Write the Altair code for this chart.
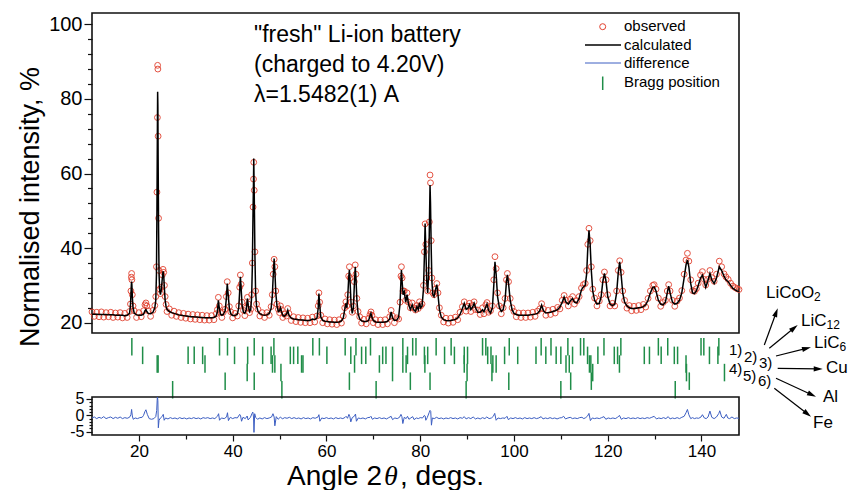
import altair as alt
import pandas as pd

# ---------------- data ----------------
ANGLE = [
    10.0, 10.5, 11.0, 11.5, 12.0, 12.5, 13.0, 13.5, 14.0, 14.5,
    15.0, 15.5, 16.0, 16.5, 17.0, 17.5, 18.0, 18.2, 18.3, 18.4,
    18.45, 18.5, 18.6, 18.75, 19.0, 19.5, 20.0, 20.5, 21.0, 21.3,
    21.5, 21.7, 22.0, 22.5, 23.0, 23.4, 23.6, 23.75, 23.85, 23.95,
    24.0, 24.05, 24.1, 24.2, 24.3, 24.45, 24.6, 24.8, 25.0, 25.15,
    25.3, 25.45, 25.6, 25.8, 26.0, 26.5, 27.0, 27.5, 28.0, 28.5,
    29.0, 29.5, 30.0, 30.5, 31.0, 31.5, 32.0, 32.5, 33.0, 33.5,
    34.0, 34.5, 35.0, 35.5, 36.0, 36.5, 36.75, 36.95, 37.15, 37.4,
    37.7, 38.0, 38.4, 38.65, 38.85, 39.05, 39.3, 39.6, 40.0, 40.5,
    41.0, 41.3, 41.5, 41.65, 41.8, 42.0, 42.3, 42.6, 42.9, 43.15,
    43.35, 43.6, 43.85, 44.05, 44.2, 44.35, 44.45, 44.5, 44.6, 44.75,
    44.9, 45.1, 45.4, 45.8, 46.3, 46.8, 47.3, 47.8, 48.2, 48.45,
    48.65, 48.85, 49.0, 49.2, 49.45, 49.75, 50.0, 50.2, 50.4, 50.7,
    51.0, 51.5, 51.75, 52.0, 52.5, 53.0, 53.5, 54.0, 54.5, 55.0,
    55.5, 56.0, 56.5, 57.0, 57.5, 58.0, 58.25, 58.4, 58.55, 58.8,
    59.2, 59.7, 60.2, 60.7, 61.2, 61.7, 62.2, 62.7, 63.2, 63.6,
    63.9, 64.15, 64.35, 64.55, 64.75, 64.9, 65.05, 65.25, 65.5, 65.75,
    65.95, 66.15, 66.3, 66.5, 66.75, 67.1, 67.5, 68.0, 68.5, 69.0,
    69.3, 69.5, 69.7, 70.0, 70.5, 71.0, 71.5, 72.0, 72.5, 73.0,
    73.5, 73.8, 74.1, 74.5, 75.0, 75.4, 75.7, 75.9, 76.0, 76.15,
    76.35, 76.6, 76.9, 77.2, 77.5, 77.9, 78.3, 78.6, 79.0, 79.3,
    79.6, 79.85, 80.1, 80.4, 80.7, 80.9, 81.05, 81.2, 81.4, 81.6,
    81.8, 81.95, 82.1, 82.2, 82.35, 82.5, 82.7, 82.95, 83.25, 83.55,
    83.8, 84.1, 84.5, 85.0, 85.5, 86.0, 86.5, 87.0, 87.5, 88.0,
    88.5, 89.0, 89.4, 89.8, 90.2, 90.5, 90.8, 91.2, 91.5, 91.8,
    92.3, 92.8, 93.3, 93.6, 94.0, 94.25, 94.6, 95.0, 95.4, 95.7,
    95.95, 96.2, 96.5, 96.9, 97.3, 97.7, 98.1, 98.4, 98.6, 98.85,
    99.2, 99.6, 100.0, 100.5, 101.0, 101.5, 102.0, 102.5, 103.0, 103.5,
    104.0, 104.5, 105.0, 105.5, 105.9, 106.3, 106.8, 107.3, 107.8, 108.3,
    108.8, 109.3, 109.8, 110.3, 110.7, 111.1, 111.6, 112.0, 112.5, 112.9,
    113.4, 113.9, 114.4, 114.8, 115.2, 115.5, 115.75, 116.0, 116.25, 116.5,
    116.8, 117.2, 117.7, 118.2, 118.6, 118.95, 119.3, 119.65, 120.0, 120.5,
    121.0, 121.5, 121.9, 122.25, 122.55, 122.85, 123.2, 123.6, 124.1, 124.6,
    125.1, 125.6, 126.1, 126.6, 127.1, 127.6, 128.1, 128.6, 129.1, 129.6,
    129.9, 130.3, 130.8, 131.3, 131.8, 132.3, 132.7, 133.0, 133.3, 133.8,
    134.3, 134.8, 135.3, 135.8, 136.3, 136.7, 137.0, 137.3, 137.7, 138.1,
    138.5, 138.9, 139.3, 139.8, 140.2, 140.6, 140.9, 141.3, 141.8, 142.2,
    142.7, 143.2, 143.8, 144.3, 144.8, 145.2, 145.7, 146.2, 146.7, 147.2,
    147.6, 148.0,
]

CALC = [
    22.3, 22.3, 22.3, 22.2, 22.2, 22.2, 22.2, 22.1, 22.1, 22.1,
    22.0, 22.0, 22.0, 22.0, 21.9, 22.0, 22.5, 24.5, 27.5, 30.3,
    31.0, 30.2, 27.0, 24.0, 22.6, 22.1, 22.0, 22.0, 22.3, 23.2,
    23.5, 23.0, 22.5, 22.4, 22.8, 24.0, 26.0, 33.0, 50.0, 72.0,
    81.9, 78.0, 65.0, 45.0, 33.0, 28.5, 27.5, 29.0, 32.0, 33.8,
    32.5, 29.0, 26.0, 24.3, 23.6, 23.0, 22.7, 22.5, 22.3, 22.1,
    22.0, 21.9, 21.8, 21.7, 21.6, 21.6, 21.5, 21.5, 21.4, 21.4,
    21.3, 21.3, 21.3, 21.3, 21.4, 21.8, 23.0, 26.0, 24.0, 22.3,
    22.0, 22.2, 23.2, 26.5, 30.5, 27.5, 23.8, 22.4, 21.9, 21.9,
    22.3, 24.0, 28.5, 32.3, 29.5, 24.8, 22.8, 22.5, 23.5, 26.5,
    24.5, 23.0, 23.5, 27.0, 35.0, 50.0, 58.0, 64.0, 55.0, 38.0,
    28.0, 24.5, 23.0, 22.4, 22.1, 22.0, 22.1, 22.5, 23.8, 27.0,
    32.5, 37.2, 34.0, 28.0, 24.5, 23.0, 23.2, 24.0, 23.0, 22.0,
    21.7, 22.3, 23.3, 22.0, 21.2, 21.0, 20.9, 20.8, 20.7, 20.7,
    20.6, 20.6, 20.6, 21.0, 20.8, 21.3, 24.0, 27.8, 25.0, 21.5,
    20.6, 20.4, 20.3, 20.2, 20.2, 20.1, 20.1, 20.2, 20.5, 21.3,
    23.5, 25.2, 24.0, 27.0, 32.0, 34.2, 31.0, 25.0, 22.5, 24.0,
    30.0, 35.0, 32.0, 26.0, 22.5, 21.0, 20.5, 20.3, 20.3, 20.6,
    21.8, 22.5, 21.5, 20.6, 20.2, 20.1, 20.1, 20.1, 20.2, 20.3,
    21.0, 22.9, 21.3, 20.6, 20.7, 21.5, 25.0, 31.5, 34.1, 31.0,
    27.5, 28.3, 25.5, 27.5, 25.0, 23.5, 24.8, 23.5, 23.0, 24.3,
    23.5, 25.3, 24.0, 24.5, 29.0, 38.0, 46.6, 40.0, 31.0, 28.0,
    33.0, 45.0, 56.9, 52.0, 40.0, 31.0, 27.5, 27.0, 28.8, 30.2,
    27.5, 23.5, 21.5, 20.8, 20.6, 20.5, 20.6, 20.7, 20.9, 21.3,
    22.2, 23.8, 25.2, 23.6, 23.9, 24.8, 23.5, 24.2, 25.2, 24.0,
    22.8, 22.8, 23.5, 22.9, 24.3, 25.0, 23.3, 22.6, 24.0, 30.0,
    36.3, 33.0, 27.0, 24.0, 23.0, 23.5, 26.0, 31.0, 32.8, 30.5,
    26.0, 23.5, 22.5, 22.2, 22.0, 22.0, 22.0, 22.0, 22.0, 22.1,
    22.2, 22.3, 22.5, 23.2, 24.7, 23.2, 22.6, 22.7, 22.8, 23.0,
    23.2, 23.5, 24.2, 25.5, 26.9, 25.5, 25.0, 25.8, 26.5, 25.5,
    25.3, 26.5, 28.8, 29.6, 30.0, 33.0, 40.0, 44.8, 41.0, 34.0,
    28.5, 26.0, 25.0, 25.2, 27.0, 31.0, 33.2, 31.0, 27.0, 25.0,
    24.6, 25.0, 28.0, 33.5, 36.3, 33.0, 28.0, 25.5, 24.5, 24.0,
    23.8, 23.8, 23.9, 24.0, 24.1, 24.3, 24.8, 26.0, 28.0, 29.5,
    29.6, 28.5, 26.0, 25.0, 24.8, 25.5, 28.0, 29.8, 28.0, 25.5,
    25.0, 25.2, 26.0, 28.0, 32.0, 35.5, 36.8, 35.0, 30.5, 28.0,
    27.8, 28.5, 30.0, 32.0, 32.8, 31.0, 29.5, 31.0, 33.2, 31.5,
    30.5, 32.0, 35.0, 34.0, 32.5, 31.5, 31.0, 30.0, 29.2, 28.8,
    28.5, 28.4,
]

OBS = [
    22.9, 21.7, 22.8, 21.6, 22.9, 21.5, 22.7, 21.6, 22.8, 21.4,
    22.6, 21.5, 22.7, 21.3, 22.5, 21.4, 23.0, 25.0, 28.5, 32.2,
    33.2, 31.5, 27.5, 24.5, 23.2, 21.4, 22.7, 21.6, 23.2, 24.8,
    25.3, 24.5, 23.2, 21.7, 23.3, 24.6, 27.0, 35.0, 55.0, 75.0,
    89.0, 88.0, 70.0, 48.0, 34.0, 29.0, 27.8, 29.5, 32.8, 34.3,
    33.5, 30.0, 27.0, 24.9, 23.0, 23.7, 22.0, 23.1, 21.7, 22.7,
    21.4, 22.5, 21.2, 22.3, 21.0, 22.2, 20.9, 22.1, 20.8, 22.0,
    20.7, 21.9, 20.7, 21.9, 20.8, 22.4, 23.5, 26.8, 24.5, 22.8,
    21.4, 22.8, 23.6, 27.0, 31.0, 28.0, 24.3, 22.9, 21.3, 22.5,
    21.8, 24.5, 29.5, 32.8, 30.3, 25.5, 23.3, 21.9, 24.0, 26.8,
    25.0, 22.7, 23.6, 27.5, 36.0, 51.0, 58.5, 63.0, 55.5, 39.0,
    28.5, 25.0, 23.6, 21.8, 22.7, 21.4, 22.7, 22.0, 24.3, 27.5,
    33.0, 37.0, 35.0, 28.5, 25.0, 23.6, 22.7, 24.5, 23.5, 21.4,
    22.3, 21.8, 23.8, 22.5, 20.6, 21.6, 20.3, 21.4, 20.1, 21.3,
    20.0, 21.2, 20.0, 21.5, 20.2, 21.8, 24.5, 28.0, 25.5, 22.0,
    20.0, 21.0, 19.7, 20.8, 19.6, 20.7, 19.5, 20.8, 19.9, 21.8,
    24.0, 25.6, 24.5, 27.5, 32.5, 35.0, 32.0, 25.5, 22.8, 24.5,
    31.0, 35.5, 33.0, 26.5, 23.0, 21.6, 19.9, 20.9, 19.7, 21.2,
    22.2, 22.9, 22.0, 20.0, 20.8, 19.5, 20.7, 19.5, 20.8, 19.7,
    21.6, 23.3, 21.8, 20.0, 21.3, 21.0, 25.5, 32.5, 35.0, 32.0,
    28.5, 28.5, 26.0, 28.0, 25.5, 24.0, 25.3, 24.0, 23.4, 24.6,
    23.8, 25.6, 24.5, 25.0, 30.0, 39.0, 46.5, 41.0, 32.0, 28.5,
    34.0, 47.0, 59.6, 57.5, 42.0, 32.0, 28.0, 27.5, 29.0, 30.5,
    28.0, 24.0, 22.0, 20.2, 21.2, 19.9, 21.2, 20.1, 21.5, 20.8,
    22.8, 24.3, 25.6, 23.1, 24.4, 25.2, 23.0, 24.7, 25.6, 23.5,
    23.4, 22.2, 24.0, 22.4, 24.8, 25.4, 22.8, 23.2, 24.5, 31.5,
    37.7, 34.5, 28.0, 24.5, 22.4, 24.0, 26.5, 31.5, 33.2, 31.0,
    26.5, 24.0, 23.0, 21.6, 22.6, 21.4, 22.6, 21.4, 22.6, 21.5,
    22.8, 21.7, 23.1, 23.7, 25.1, 23.7, 22.0, 23.3, 22.2, 23.6,
    22.6, 24.1, 23.7, 26.0, 27.3, 26.0, 24.5, 26.3, 27.0, 25.0,
    25.9, 27.0, 29.3, 30.2, 30.5, 34.0, 41.0, 45.3, 42.0, 35.0,
    29.0, 26.6, 24.5, 25.8, 27.5, 31.5, 33.6, 31.5, 27.5, 24.5,
    25.2, 24.5, 28.5, 34.0, 36.6, 33.5, 28.5, 26.0, 23.9, 24.6,
    23.2, 24.4, 23.3, 24.6, 23.5, 24.9, 24.2, 26.5, 28.5, 30.0,
    30.2, 29.0, 26.6, 24.4, 25.4, 26.0, 28.5, 30.2, 28.5, 26.0,
    24.4, 25.8, 26.6, 28.6, 33.0, 36.8, 38.6, 36.5, 31.5, 28.6,
    28.4, 29.1, 30.6, 32.8, 33.7, 31.6, 30.1, 31.6, 34.0, 32.1,
    31.1, 33.0, 36.5, 35.0, 33.1, 32.3, 31.6, 30.6, 29.8, 29.4,
    29.1, 28.9,
]

DIFF_ANGLE = [
    10.0, 10.5, 11.0, 11.5, 12.0, 12.5, 13.0, 13.5, 14.0, 14.5,
    15.0, 15.5, 16.0, 16.5, 17.0, 17.5, 18.0, 18.3, 18.45, 18.6,
    18.8, 19.2, 19.7, 20.2, 20.7, 21.0, 21.3, 21.5, 21.8, 22.2,
    22.7, 23.2, 23.6, 23.8, 23.95, 24.05, 24.15, 24.3, 24.6, 25.0,
    25.2, 25.4, 25.7, 26.2, 26.7, 27.2, 27.7, 28.2, 28.7, 29.2,
    29.7, 30.2, 30.7, 31.2, 31.7, 32.2, 32.7, 33.2, 33.7, 34.2,
    34.7, 35.2, 35.7, 36.2, 36.8, 37.0, 37.2, 37.6, 38.2, 38.7,
    38.9, 39.1, 39.5, 40.0, 40.5, 41.0, 41.5, 41.7, 41.9, 42.2,
    42.7, 43.1, 43.3, 43.8, 44.1, 44.3, 44.45, 44.55, 44.7, 44.9,
    45.3, 45.8, 46.3, 46.8, 47.3, 47.8, 48.3, 48.6, 48.85, 49.0,
    49.3, 49.7, 50.2, 50.6, 51.1, 51.6, 52.1, 52.6, 53.1, 53.6,
    54.1, 54.6, 55.1, 55.6, 56.1, 56.6, 57.1, 57.6, 58.2, 58.4,
    58.6, 59.0, 59.5, 60.0, 60.5, 61.0, 61.5, 62.0, 62.5, 63.0,
    63.5, 64.0, 64.2, 64.5, 64.8, 65.0, 65.2, 65.5, 66.0, 66.2,
    66.4, 66.8, 67.3, 67.8, 68.3, 68.8, 69.3, 69.5, 69.8, 70.3,
    70.8, 71.3, 71.8, 72.3, 72.8, 73.3, 73.8, 74.1, 74.6, 75.1,
    75.6, 75.9, 76.1, 76.3, 76.6, 77.0, 77.3, 77.6, 78.0, 78.4,
    78.7, 79.2, 79.6, 80.0, 80.5, 80.9, 81.05, 81.2, 81.5, 81.9,
    82.1, 82.25, 82.4, 82.6, 83.0, 83.5, 84.0, 84.5, 85.0, 85.5,
    86.0, 86.5, 87.0, 87.5, 88.0, 88.5, 89.0, 89.4, 89.8, 90.3,
    90.8, 91.3, 91.8, 92.3, 92.8, 93.3, 93.8, 94.2, 94.7, 95.2,
    95.6, 95.9, 96.2, 96.6, 97.1, 97.6, 98.1, 98.5, 98.8, 99.3,
    99.8, 100.3, 100.8, 101.3, 101.8, 102.3, 102.8, 103.3, 103.8, 104.3,
    104.8, 105.3, 105.8, 106.2, 106.7, 107.2, 107.7, 108.2, 108.7, 109.2,
    109.7, 110.2, 110.6, 111.0, 111.5, 112.0, 112.5, 113.0, 113.5, 114.0,
    114.5, 114.9, 115.3, 115.7, 116.0, 116.3, 116.7, 117.2, 117.7, 118.2,
    118.7, 119.2, 119.6, 120.1, 120.6, 121.1, 121.6, 122.1, 122.5, 122.9,
    123.4, 123.9, 124.4, 124.9, 125.4, 125.9, 126.4, 126.9, 127.4, 127.9,
    128.4, 128.9, 129.4, 129.9, 130.4, 130.9, 131.4, 131.9, 132.4, 132.9,
    133.3, 133.8, 134.3, 134.8, 135.3, 135.8, 136.3, 136.7, 137.0, 137.3,
    137.7, 138.1, 138.5, 138.9, 139.4, 139.9, 140.2, 140.6, 141.0, 141.4,
    141.8, 142.2, 142.7, 143.2, 143.7, 143.9, 144.3, 144.8, 145.3, 145.6,
    146.0, 146.5, 147.0, 147.5, 148.0,
]

DIFF = [
    -0.8, -0.5, -1.0, -0.6, -0.9, -0.4, -1.0, -0.7, -0.5, -1.0,
    -0.6, -0.9, -0.5, -1.0, -0.7, -0.9, -0.6, 0.2, 1.8, -0.2,
    -1.2, -0.8, -1.0, -0.7, -0.6, 0.0, 1.2, 1.7, 0.3, -1.0,
    -1.2, -1.0, -0.4, 1.5, 6.0, 4.5, -3.8, -1.5, -0.8, -0.3,
    0.3, -1.5, -0.8, -1.1, -0.7, -1.0, -0.8, -1.1, -0.7, -1.0,
    -0.8, -1.1, -0.8, -1.0, -0.7, -1.0, -0.8, -1.1, -0.7, -0.9,
    -0.7, -1.0, -0.8, -1.0, -0.2, 0.5, -1.5, -0.8, -1.0, -0.5,
    0.8, -1.6, -0.6, -1.0, -0.7, -0.8, 0.3, -0.2, -1.8, -0.6,
    -1.0, -0.2, -1.4, -0.6, 0.5, 1.0, -0.5, -5.2, 0.5, -0.6,
    -1.2, -0.8, -1.1, -0.7, -1.0, -0.8, -0.5, 0.5, -0.5, -3.2,
    -0.4, -1.2, -0.5, -1.1, -0.7, -0.9, -0.6, -1.0, -0.7, -1.0,
    -0.8, -1.1, -0.7, -1.0, -0.8, -1.1, -0.7, -0.9, -0.5, 0.2,
    -1.8, -0.8, -1.0, -0.7, -1.0, -0.8, -1.1, -0.7, -1.0, -0.8,
    -1.0, -0.6, -0.3, -0.9, 0.3, -0.4, -2.0, -0.7, -0.2, 0.4,
    -1.8, -0.8, -1.0, -0.8, -1.1, -0.7, -0.6, -0.3, -1.2, -0.8,
    -1.0, -0.7, -1.0, -0.8, -1.1, -0.7, -0.3, -1.3, -0.8, -1.0,
    -0.6, 0.3, -0.4, -2.5, -0.6, -1.0, -0.3, -1.2, -0.8, -0.4,
    -1.3, -0.8, -1.0, -0.7, -0.8, 0.0, -0.2, -1.5, -0.7, 0.8,
    1.5, 1.2, -3.0, -0.8, -1.0, -0.6, -1.0, -0.8, -1.1, -0.8,
    -1.0, -0.7, -1.0, -0.8, -1.1, -0.7, -0.9, -0.4, -1.1, -0.7,
    -1.0, -0.5, -1.1, -0.8, -1.1, -0.7, -1.0, -0.5, -1.0, -0.8,
    -0.3, 0.6, -1.5, -0.8, -1.0, -0.8, -0.9, -0.3, -1.3, -0.8,
    -1.0, -0.7, -1.0, -0.8, -1.1, -0.7, -1.0, -0.8, -1.0, -0.7,
    -1.0, -0.8, -0.4, -1.1, -0.8, -1.0, -0.7, -1.0, -0.8, -1.1,
    -0.8, -0.7, -0.3, -1.1, -0.8, -0.6, -1.0, -0.8, -1.0, -0.7,
    -0.6, -1.0, -0.7, -0.2, 0.6, -1.6, -0.8, -1.0, -0.8, -1.0,
    -0.7, -0.4, -1.2, -0.8, -1.0, -0.8, -1.0, -0.6, 0.0, -1.2,
    -0.8, -1.0, -0.7, -1.0, -0.8, -1.0, -0.7, -1.0, -0.8, -1.0,
    -0.7, -0.9, -0.6, -0.3, -1.1, -0.8, -1.0, -0.7, -1.0, -0.4,
    -1.1, -0.8, -1.0, -0.7, -1.0, -0.6, -0.3, 0.8, 1.8, 0.2,
    -1.0, -0.7, -1.0, -0.8, -0.9, -0.5, 0.2, -0.8, -1.0, -0.5,
    1.3, -0.6, -1.0, -0.5, 0.6, 1.4, -0.5, -0.9, 0.3, -0.8,
    -1.0, -0.5, -1.0, -0.8, -0.9,
]

BRAGG_LICOO2 = [18.5, 37.2, 38.9, 44.6, 48.8, 57.1, 58.5, 64.0, 66.3, 69.4,
                76.3, 78.4, 79.1, 83.4, 86.6, 93.3, 94.0, 99.0, 105.8, 107.9,
                111.5, 114.2, 114.9, 119.2, 122.8, 130.8, 132.8, 139.9, 140.5, 143.7]
BRAGG_LIC12 = [20.8, 30.5, 31.8, 33.6, 40.4, 43.2, 46.4, 48.2, 52.3, 53.0,
               53.9, 60.1, 65.2, 67.5, 68.4, 72.0, 72.7, 74.1, 77.3, 80.9,
               81.6, 85.2, 87.3, 89.4, 90.1, 94.4, 95.1, 98.0, 100.8, 104.7,
               106.8, 109.0, 110.0, 112.5, 115.7, 117.9, 121.4, 122.1, 127.8, 128.9,
               131.4, 134.2, 134.9, 141.7, 143.5]
BRAGG_LIC6 = [23.9, 24.1, 34.1, 48.5, 49.0, 54.7, 55.0, 66.0, 71.3, 76.3,
              77.0, 81.0, 89.4, 95.5, 96.2, 111.1, 111.8, 116.1, 116.4, 122.5, 136.7]
BRAGG_CU = [43.1, 50.3, 74.1, 90.0, 95.3, 116.8, 136.8, 144.9]
BRAGG_AL = [38.4, 44.6, 64.9, 77.9, 82.1, 98.9, 112.1, 116.5, 137.4]
BRAGG_FE = [27.2, 50.5, 70.6, 89.8, 110.0, 134.4]

# ---------------- styling ----------------
FONT = "Liberation Sans"
RED = "#e2412f"
BLUE = "#3c5ec2"
GREEN = "#1f8d48"
INK = "#111111"
W = 647
ARROW = "M0,-1L0.55,0.9L-0.55,0.9Z"

pattern = pd.DataFrame({"angle": ANGLE, "calc": CALC, "obs": OBS})
diff_df = pd.DataFrame({"angle": DIFF_ANGLE, "diff": DIFF})
phases = [BRAGG_LICOO2, BRAGG_LIC12, BRAGG_LIC6, BRAGG_CU, BRAGG_AL, BRAGG_FE]
bragg_df = pd.DataFrame({
    "angle": [a for p in phases for a in p],
    "row": [i + 1 for i, p in enumerate(phases) for _ in p],
})

xs = alt.Scale(domain=[10, 148], nice=False, zero=False)
ONE = alt.Data(values=[{"k": 1}])


def note(text, x, y, size, font=FONT, style="normal", color="black"):
    return alt.Chart(ONE).mark_text(
        text=text, align="left", baseline="middle", fontSize=size,
        font=font, fontStyle=style, color=color
    ).encode(x=alt.value(x), y=alt.value(y))


def seg(x1, y1, x2, y2, color="black", width=1.2):
    return alt.Chart(ONE).mark_rule(color=color, strokeWidth=width).encode(
        x=alt.value(x1), y=alt.value(y1), x2=alt.value(x2), y2=alt.value(y2))


def head(x, y, ang):
    return alt.Chart(ONE).mark_point(
        shape=ARROW, filled=True, size=90, color="black", opacity=1, angle=ang
    ).encode(x=alt.value(x), y=alt.value(y))


# ---------------- main panel ----------------
y_axis = alt.Axis(
    values=list(range(20, 101, 4)),
    labelExpr="(datum.value == 20 || datum.value == 40 || datum.value == 60 || datum.value == 80 || datum.value == 100) ? format(datum.value, 'd') : ''",
    tickSize={"condition": {"test": "datum.value % 20 == 0", "value": 8}, "value": 4.5},
    title=None, grid=False, domain=False, labelFontSize=20, labelPadding=2,
    labelFlush=False, labelOverlap=False,
)
ysc = alt.Scale(domain=[17.24, 103.03], nice=False, zero=False)

obs_pts = alt.Chart(pattern).mark_point(
    shape="circle", filled=False, size=34, color=RED, strokeWidth=1, opacity=0.9
).encode(
    x=alt.X("angle:Q", scale=xs, axis=None),
    y=alt.Y("obs:Q", scale=ysc, axis=y_axis),
)
calc_line = alt.Chart(pattern).mark_line(color="black", strokeWidth=1.5).encode(
    x=alt.X("angle:Q", scale=xs, axis=None),
    y=alt.Y("calc:Q", scale=ysc, axis=y_axis),
)

legend = [
    alt.Chart(ONE).mark_point(shape="circle", filled=False, size=36, color=RED,
                              strokeWidth=1, opacity=1).encode(x=alt.value(510.7), y=alt.value(13.7)),
    seg(493, 32, 529, 32, "black", 1.4),
    seg(493, 50, 529, 50, BLUE, 1.0),
    seg(510.7, 63.5, 510.7, 77, GREEN, 1.5),
    note("observed", 532, 13, 15),
    note("calculated", 532, 32, 15),
    note("difference", 532, 50, 15),
    note("Bragg position", 532, 69, 15),
]
texts = [
    note('"fresh" Li-ion battery', 162, 22, 23),
    note("(charged to 4.20V)", 162, 52, 23),
    note("\u03bb=1.5482(1) A", 162, 82, 23),
]
ytitle = alt.Chart(ONE).mark_text(
    text="Normalised intensity, %", angle=270, align="center", baseline="middle",
    fontSize=27, font=FONT, color="black"
).encode(x=alt.value(-61), y=alt.value(194))

main = alt.layer(obs_pts, calc_line, *legend, *texts, ytitle).properties(width=W, height=320)

# ---------------- Bragg strip ----------------
ticks = alt.Chart(bragg_df).mark_tick(
    orient="vertical", size=17.5, thickness=1.5, color=GREEN, opacity=1
).encode(
    x=alt.X("angle:Q", scale=xs, axis=None),
    y=alt.Y("row:Q", scale=alt.Scale(domain=[-0.6, 6.84], reverse=True, nice=False, zero=False), axis=None),
)
nums = [note("1)", 637, 17, 15), note("2)", 652, 24, 15), note("3)", 667, 30, 15),
        note("4)", 637, 36, 15), note("5)", 651, 43, 15), note("6)", 666, 48, 15)]
chems = [
    note("LiCoO", 674, -40, 17), note("2", 722, -36, 12),
    note("LiC", 709, -12, 17), note("12", 734.5, -8, 12),
    note("LiC", 722, 10, 17), note("6", 747.5, 14, 12),
    note("Cu", 734, 35, 17), note("Al", 731, 64, 17), note("Fe", 721, 90, 17),
]
arrows = [
    seg(672.3, 12, 684.1, -20.3), head(684.1, -20.3, 20),
    seg(677.3, 15.3, 702.0, -5.0), head(702.0, -5.0, 51),
    seg(684, 23, 714.4, 15.4), head(714.4, 15.4, 76),
    seg(685.7, 35.3, 726.0, 35.9), head(726.0, 35.9, 91),
    seg(684, 45.3, 719.7, 61.7), head(719.7, 61.7, 115),
    seg(682.3, 55.3, 715.3, 80.8), head(715.3, 80.8, 128),
]
bragg = alt.layer(ticks, *nums, *chems, *arrows).properties(
    width=W, height=64, view=alt.ViewBackground(strokeOpacity=0))

# ---------------- difference panel ----------------
x_axis = alt.Axis(
    values=list(range(20, 141, 10)),
    labelExpr="datum.value % 20 == 0 ? format(datum.value, 'd') : ''",
    tickSize={"condition": {"test": "datum.value % 20 == 0", "value": 6}, "value": 4},
    title=None, grid=False, domain=False, labelFontSize=17, labelPadding=2,
    labelFlush=False, labelOverlap=False,
)
dy_axis = alt.Axis(
    values=list(range(-5, 6)),
    labelExpr="datum.value == 5 ? '5' : datum.value == 0 ? '0' : datum.value == -5 ? '-5' : ''",
    tickSize={"condition": {"test": "datum.value % 5 == 0", "value": 6}, "value": 3},
    title=None, grid=False, domain=False, labelFontSize=16, labelPadding=2,
    labelFlush=False, labelOverlap=False,
)
diff_line = alt.Chart(diff_df).mark_line(color=BLUE, strokeWidth=1, clip=True).encode(
    x=alt.X("angle:Q", scale=xs, axis=x_axis),
    y=alt.Y("diff:Q", scale=alt.Scale(domain=[-6, 5.6], nice=False, zero=False), axis=dy_axis),
)
xtitle = [
    note("Angle 2", 195, 80, 28),
    note("\u03b8", 292, 80, 28, font="Liberation Serif", style="italic"),
    note(", degs.", 308, 80, 28),
]
diff = alt.layer(diff_line, *xtitle).properties(width=W, height=38)

chart = alt.vconcat(main, bragg, diff, spacing=0, bounds="flush").properties(
    padding={"left": 16, "top": 12, "right": 0, "bottom": 0}
).configure_view(stroke=INK, strokeWidth=1.6).configure_axis(
    labelFont=FONT, labelColor="black", tickColor=INK, tickWidth=1.2
).configure_text(font=FONT)

chart.save("out.html", embed_options={"renderer": "svg", "actions": False})
